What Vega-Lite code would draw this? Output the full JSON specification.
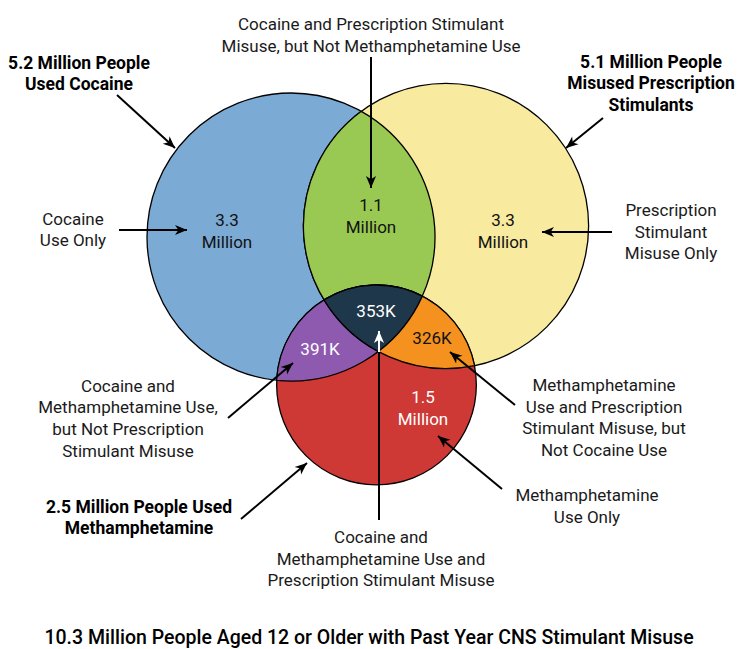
{
  "$schema": "https://vega.github.io/schema/vega-lite/v6.json",
  "width": 738,
  "height": 649,
  "autosize": {"type": "fit", "contains": "padding"},
  "padding": 0,
  "background": "white",
  "config": {
    "view": {"stroke": null},
    "text": {"font": "Roboto", "fontSize": 17, "lineHeight": 21.7, "baseline": "middle", "align": "center"}
  },
  "datasets": {
    "circles": [
      {"set": "Cocaine", "millions": 5.2, "cx": 291, "cy": 237},
      {"set": "Prescription Stimulants", "millions": 5.1, "cx": 446, "cy": 226},
      {"set": "Methamphetamine", "millions": 2.5, "cx": 376.5, "cy": 385}
    ],
    "overlaps": [
      {"region": "Cocaine and Prescription Stimulants"},
      {"region": "Cocaine and Methamphetamine"},
      {"region": "Methamphetamine and Prescription Stimulants"},
      {"region": "All Three"}
    ],
    "counts": [
      {"region": "Cocaine Only", "count": "3.3\nMillion", "lx": 227, "ly": 221},
      {"region": "Prescription Stimulants Only", "count": "3.3\nMillion", "lx": 503, "ly": 221},
      {"region": "Methamphetamine Only", "count": "1.5\nMillion", "lx": 423, "ly": 398.3},
      {"region": "Cocaine and Prescription Stimulants", "count": "1.1\nMillion", "lx": 371, "ly": 206},
      {"region": "Cocaine and Methamphetamine", "count": "391K", "lx": 320, "ly": 350},
      {"region": "Methamphetamine and Prescription Stimulants", "count": "326K", "lx": 432, "ly": 339},
      {"region": "All Three", "count": "353K", "lx": 376, "ly": 312}
    ],
    "notes": [
      {"note": "Cocaine and Prescription Stimulant\nMisuse, but Not Methamphetamine Use", "nx": 371, "ny": 25},
      {"note": "Cocaine\nUse Only", "nx": 73, "ny": 219.5},
      {"note": "Prescription\nStimulant\nMisuse Only", "nx": 671, "ny": 211},
      {"note": "Cocaine and\nMethamphetamine Use,\nbut Not Prescription\nStimulant Misuse", "nx": 128, "ny": 386.7},
      {"note": "Methamphetamine\nUse and Prescription\nStimulant Misuse, but\nNot Cocaine Use", "nx": 604, "ny": 386},
      {"note": "Methamphetamine\nUse Only", "nx": 587, "ny": 496},
      {"note": "Cocaine and\nMethamphetamine Use and\nPrescription Stimulant Misuse", "nx": 381, "ny": 538}
    ],
    "totals": [
      {"total": "5.2 Million People\nUsed Cocaine", "tx": 79, "ty": 63.5},
      {"total": "5.1 Million People\nMisused Prescription\nStimulants", "tx": 651, "ty": 62.5},
      {"total": "2.5 Million People Used\nMethamphetamine", "tx": 139, "ty": 507.5}
    ],
    "caption": [
      {"caption": "10.3 Million People Aged 12 or Older with Past Year CNS Stimulant Misuse", "cx": 369, "cy": 638}
    ],
    "arrows": [
      {"x1": 117, "y1": 95, "x2": 175, "y2": 148, "angle": 42.4, "tone": "dark", "head": true},
      {"x1": 371, "y1": 57, "x2": 371, "y2": 188, "angle": 90, "tone": "dark", "head": true},
      {"x1": 119, "y1": 230, "x2": 187, "y2": 230, "angle": 0, "tone": "dark", "head": true},
      {"x1": 612, "y1": 232, "x2": 542, "y2": 232, "angle": 180, "tone": "dark", "head": true},
      {"x1": 603, "y1": 118, "x2": 566, "y2": 148, "angle": 141, "tone": "dark", "head": true},
      {"x1": 228, "y1": 418, "x2": 293, "y2": 363, "angle": -40.2, "tone": "dark", "head": true},
      {"x1": 241, "y1": 519, "x2": 307, "y2": 463, "angle": -40.3, "tone": "dark", "head": true},
      {"x1": 379, "y1": 520, "x2": 379, "y2": 352, "angle": -90, "tone": "dark", "head": false},
      {"x1": 379, "y1": 352, "x2": 379, "y2": 331, "angle": -90, "tone": "light", "head": true},
      {"x1": 515, "y1": 405, "x2": 450, "y2": 352, "angle": -140.8, "tone": "dark", "head": true},
      {"x1": 502, "y1": 489, "x2": 438, "y2": 436, "angle": -140.4, "tone": "dark", "head": true}
    ]
  },
  "layer": [
    {
      "data": {"name": "circles"},
      "mark": {"type": "point", "shape": "circle", "filled": true, "opacity": 1, "stroke": "#000000", "strokeWidth": 1.3},
      "encoding": {
        "x": {"field": "cx", "type": "quantitative", "scale": {"domain": [0, 738], "nice": false, "zero": false}, "axis": null},
        "y": {"field": "cy", "type": "quantitative", "scale": {"domain": [0, 649], "nice": false, "zero": false, "reverse": true}, "axis": null},
        "size": {"field": "millions", "type": "quantitative", "scale": {"type": "linear", "domain": [0, 5.2], "range": [0, 82944]}, "legend": null},
        "fill": {"field": "set", "type": "nominal", "scale": {"domain": ["Cocaine", "Prescription Stimulants", "Methamphetamine"], "range": ["#7BAAD4", "#F8EA9F", "#CE3835"]}, "legend": null}
      }
    },
    {
      "data": {"name": "overlaps"},
      "mark": {"type": "point", "filled": true, "opacity": 1, "stroke": "#000000", "strokeWidth": 1.3, "size": 4},
      "encoding": {
        "x": {"datum": 0, "type": "quantitative", "scale": {"domain": [0, 738], "nice": false, "zero": false}, "axis": null},
        "y": {"datum": 0, "type": "quantitative", "scale": {"domain": [0, 649], "nice": false, "zero": false, "reverse": true}, "axis": null},
        "shape": {"field": "region", "type": "nominal", "legend": null, "scale": {
          "domain": ["Cocaine and Prescription Stimulants", "Cocaine and Methamphetamine", "Methamphetamine and Prescription Stimulants", "All Three"],
          "range": [
            "M 361.27 111.31 A 142.6 142.6 0 0 0 378.31 351.51 A 144 144 0 0 0 361.27 111.31 Z",
            "M 276.61 380.28 A 100 100 0 0 1 422.31 296.12 A 144 144 0 0 1 276.61 380.28 Z",
            "M 324.02 299.87 A 100 100 0 0 1 474.62 365.69 A 142.6 142.6 0 0 1 324.02 299.87 Z",
            "M 324.02 299.87 A 100 100 0 0 1 422.31 296.12 A 144 144 0 0 1 378.31 351.51 A 142.6 142.6 0 0 1 324.02 299.87 Z"
          ]}},
        "fill": {"field": "region", "type": "nominal", "legend": null, "scale": {
          "domain": ["Cocaine and Prescription Stimulants", "Cocaine and Methamphetamine", "Methamphetamine and Prescription Stimulants", "All Three"],
          "range": ["#99C953", "#8D5AB0", "#F5911E", "#1F374B"]}}
      }
    },
    {
      "data": {"name": "arrows"},
      "mark": {"type": "rule", "strokeWidth": 2},
      "encoding": {
        "x": {"field": "x1", "type": "quantitative", "scale": {"domain": [0, 738], "nice": false, "zero": false}, "axis": null},
        "y": {"field": "y1", "type": "quantitative", "scale": {"domain": [0, 649], "nice": false, "zero": false, "reverse": true}, "axis": null},
        "x2": {"field": "x2"},
        "y2": {"field": "y2"},
        "stroke": {"field": "tone", "type": "nominal", "legend": null, "scale": {"domain": ["dark", "light"], "range": ["#000000", "#FFFFFF"]}}
      }
    },
    {
      "data": {"name": "arrows"},
      "transform": [{"filter": "datum.head"}],
      "mark": {"type": "point", "filled": true, "opacity": 1, "size": 576, "strokeWidth": 0},
      "encoding": {
        "x": {"field": "x2", "type": "quantitative", "scale": {"domain": [0, 738], "nice": false, "zero": false}, "axis": null},
        "y": {"field": "y2", "type": "quantitative", "scale": {"domain": [0, 649], "nice": false, "zero": false, "reverse": true}, "axis": null},
        "angle": {"field": "angle", "type": "quantitative", "scale": null},
        "shape": {"datum": "arrowhead", "type": "nominal", "legend": null, "scale": {"domain": ["arrowhead"], "range": ["M 0 0 L -1 -0.42 L -0.72 0 L -1 0.42 Z"]}},
        "fill": {"field": "tone", "type": "nominal", "legend": null, "scale": {"domain": ["dark", "light"], "range": ["#000000", "#FFFFFF"]}}
      }
    },
    {
      "data": {"name": "counts"},
      "mark": {"type": "text", "lineBreak": "\n"},
      "encoding": {
        "x": {"field": "lx", "type": "quantitative", "scale": {"domain": [0, 738], "nice": false, "zero": false}, "axis": null},
        "y": {"field": "ly", "type": "quantitative", "scale": {"domain": [0, 649], "nice": false, "zero": false, "reverse": true}, "axis": null},
        "text": {"field": "count"},
        "color": {"field": "region", "type": "nominal", "legend": null, "scale": {
          "domain": ["Cocaine Only", "Prescription Stimulants Only", "Methamphetamine Only", "Cocaine and Prescription Stimulants", "Cocaine and Methamphetamine", "Methamphetamine and Prescription Stimulants", "All Three"],
          "range": ["#111111", "#111111", "#FFFFFF", "#111111", "#FFFFFF", "#111111", "#FFFFFF"]}}
      }
    },
    {
      "data": {"name": "notes"},
      "mark": {"type": "text", "lineBreak": "\n", "color": "#1a1a1a"},
      "encoding": {
        "x": {"field": "nx", "type": "quantitative", "scale": {"domain": [0, 738], "nice": false, "zero": false}, "axis": null},
        "y": {"field": "ny", "type": "quantitative", "scale": {"domain": [0, 649], "nice": false, "zero": false, "reverse": true}, "axis": null},
        "text": {"field": "note"}
      }
    },
    {
      "data": {"name": "totals"},
      "mark": {"type": "text", "lineBreak": "\n", "fontWeight": "bold", "fontSize": 17.5, "color": "#000000"},
      "encoding": {
        "x": {"field": "tx", "type": "quantitative", "scale": {"domain": [0, 738], "nice": false, "zero": false}, "axis": null},
        "y": {"field": "ty", "type": "quantitative", "scale": {"domain": [0, 649], "nice": false, "zero": false, "reverse": true}, "axis": null},
        "text": {"field": "total"}
      }
    },
    {
      "data": {"name": "caption"},
      "mark": {"type": "text", "fontSize": 19.5, "fontWeight": 500, "color": "#000000"},
      "encoding": {
        "x": {"field": "cx", "type": "quantitative", "scale": {"domain": [0, 738], "nice": false, "zero": false}, "axis": null},
        "y": {"field": "cy", "type": "quantitative", "scale": {"domain": [0, 649], "nice": false, "zero": false, "reverse": true}, "axis": null},
        "text": {"field": "caption"}
      }
    }
  ],
  "resolve": {"scale": {"fill": "independent", "color": "independent", "stroke": "independent", "shape": "independent", "size": "independent"}}
}
